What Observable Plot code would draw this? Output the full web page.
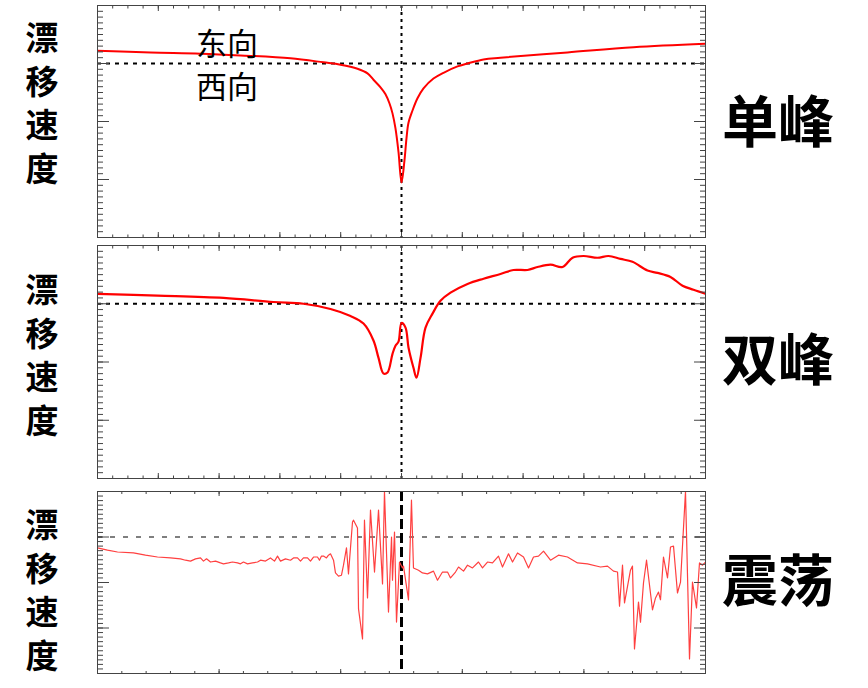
<!DOCTYPE html>
<html><head><meta charset="utf-8">
<script src="https://cdn.jsdelivr.net/npm/d3@7"></script>
<script src="https://cdn.jsdelivr.net/npm/@observablehq/plot@0.6"></script>
<style>
body{margin:0;background:#fff;}
#chart{position:relative;width:868px;height:688px;overflow:hidden;font-family:"Noto Sans CJK SC","Noto Sans",sans-serif;color:#000;}
.panel{position:absolute;left:0;}
.ylab{position:absolute;left:20px;width:44px;text-align:center;font-weight:bold;font-size:33px;line-height:43.5px;}
.rlab{position:absolute;left:722px;font-weight:bold;font-size:56px;line-height:60px;white-space:nowrap;}
.ann{position:absolute;left:196px;font-size:31px;line-height:43px;white-space:nowrap;}
</style></head>
<body><div id="chart"></div>
<script>
// ---- data ----
const panelNames = ["单峰", "双峰", "震荡"];
const yLabel = ["漂", "移", "速", "度"];
const annEast = "东向";
const annWest = "西向";

// panel 1: single peak
const x1 = [0,8.72,16.94,23.52,31.74,37.17,39.97,42.76,44.41,45.39,46.55,47.37,48.03,48.52,49.01,49.51,50,50.49,50.82,51.15,51.81,52.63,53.62,55.26,56.91,59.21,60.86,63.49,66.28,77.30,88.16,100];
const y1 = [0.22,0.19,0.17,0.14,0.09,0.02,-0.02,-0.09,-0.17,-0.28,-0.41,-0.53,-0.69,-0.86,-1.12,-1.53,-2.05,-1.67,-1.29,-1.02,-0.81,-0.60,-0.43,-0.26,-0.16,-0.05,0,0.07,0.10,0.19,0.28,0.34];

// panel 2: double peak
const x2 = [0,9.87,20.72,28.95,33.88,38.32,41.61,43.75,45.39,46.22,47.04,47.70,48.52,49.01,49.51,50.0,50.66,51.15,51.97,52.47,53.13,53.95,55.10,56.41,58.06,60.86,63.49,66.28,68.42,70.72,72.37,74.51,76.48,78.13,79.93,82.24,84.05,86.02,87.99,90.46,92.11,94.24,96.22,98.03,100];
const y2 = [0.17,0.14,0.10,0.03,0,-0.09,-0.21,-0.34,-0.63,-0.93,-1.20,-1.18,-0.86,-0.72,-0.65,-0.33,-0.41,-0.75,-1.10,-1.27,-0.93,-0.41,-0.17,0.05,0.19,0.34,0.43,0.51,0.58,0.58,0.63,0.67,0.63,0.79,0.82,0.79,0.82,0.77,0.72,0.57,0.53,0.46,0.31,0.24,0.17];

// panel 3: oscillation
const x3 = [0,1.64,3.29,5.92,7.89,9.87,12.01,13.65,14.47,15.30,16.12,16.94,17.43,17.93,18.59,19.41,20.23,20.72,21.55,22.20,23.03,23.52,24.01,24.67,25.49,26.32,26.81,27.63,28.45,29.11,29.61,30.10,30.92,31.74,32.24,32.89,33.39,33.88,34.54,35.03,35.53,36.18,36.51,36.84,37.17,37.66,37.99,38.32,38.82,39.14,39.64,40.13,40.46,40.95,41.28,41.94,42.11,42.76,42.93,43.59,43.91,44.41,44.90,45.56,46.22,46.88,47.20,47.86,48.36,48.52,48.85,49.18,49.67,50.16,50.33,51.15,51.64,51.97,52.80,53.45,54.28,55.26,55.92,56.74,57.57,58.06,58.88,59.38,60.20,60.86,61.68,62.66,63.32,64.14,64.97,65.95,66.61,67.60,68.26,69.08,70.07,70.89,71.71,72.53,73.36,74.51,75.82,77.30,78.95,80.59,82.73,83.88,84.87,85.53,85.86,86.35,86.68,87.66,87.99,88.32,88.98,89.31,89.80,90.30,91.28,91.78,92.27,92.60,93.09,93.75,94.24,94.74,95.39,95.89,96.71,97.37,97.86,98.52,99.01,99.51,100];
const y3 = [-0.24,-0.29,-0.33,-0.35,-0.40,-0.44,-0.46,-0.48,-0.51,-0.53,-0.48,-0.46,-0.53,-0.48,-0.55,-0.53,-0.57,-0.59,-0.57,-0.55,-0.57,-0.59,-0.55,-0.59,-0.57,-0.55,-0.51,-0.53,-0.46,-0.53,-0.42,-0.53,-0.48,-0.51,-0.46,-0.46,-0.53,-0.46,-0.46,-0.53,-0.44,-0.44,-0.51,-0.42,-0.42,-0.46,-0.40,-0.37,-0.51,-0.79,-0.86,-0.84,-0.62,-0.24,-0.81,0.33,0.37,0.20,-1.58,-2.24,0.37,-1.34,0.59,-0.77,0.59,-1.03,1.0,-1.65,0,-0.95,0.11,-1.87,-0.55,-0.68,-0.64,-1.38,0.81,-0.68,-0.73,-0.79,-0.81,-0.75,-0.95,-0.77,-0.77,-0.90,-0.77,-0.66,-0.75,-0.62,-0.68,-0.55,-0.68,-0.55,-0.57,-0.42,-0.66,-0.37,-0.55,-0.35,-0.44,-0.68,-0.44,-0.42,-0.31,-0.51,-0.40,-0.44,-0.57,-0.59,-0.66,-0.64,-0.75,-0.77,-1.52,-0.62,-1.45,-0.73,-0.64,-2.46,-1.43,-1.87,-1.01,-0.51,-1.60,-1.34,-1.21,-1.38,-0.44,-0.90,-0.22,-0.20,-1.23,-0.99,1.0,-2.68,-0.99,-1.56,-0.57,-0.62,-0.55];

// axes
const xDomain = [0, 100];
const yDomain = [-3, 1];
const refX = 50;   // vertical reference
const refY = 0;    // east / west boundary
const yMajor = [-3, -2, -1, 0, 1];
const yMinor = d3.range(-30, 11).map(d => d / 10);
const xMajorA = d3.range(0, 101, 10);
const xMinorA = d3.range(0, 401, 10).map(d => d / 4);
const xMajorB = d3.range(0, 101, 20);
const xMinorB = d3.range(0, 101, 4);

// ---- drawing ----
const chart = document.getElementById("chart");
const frameColor = "#444";

function axes(xMaj, xMin, yTickMaj, yTickMin, xTickMaj, xTickMin) {
  const common = {tickFormat: () => "", label: null, stroke: frameColor};
  return [
    Plot.axisY({...common, anchor: "left", ticks: yMinor, tickSize: -yTickMin}),
    Plot.axisY({...common, anchor: "left", ticks: yMajor, tickSize: -yTickMaj}),
    Plot.axisY({...common, anchor: "right", ticks: yMinor, tickSize: -yTickMin}),
    Plot.axisY({...common, anchor: "right", ticks: yMajor, tickSize: -yTickMaj}),
    Plot.axisX({...common, anchor: "bottom", ticks: xMin, tickSize: -xTickMin}),
    Plot.axisX({...common, anchor: "bottom", ticks: xMaj, tickSize: -xTickMaj}),
    Plot.axisX({...common, anchor: "top", ticks: xMin, tickSize: -xTickMin}),
    Plot.axisX({...common, anchor: "top", ticks: xMaj, tickSize: -xTickMaj})
  ];
}

function panel(cfg) {
  const data = cfg.x.map((d, i) => ({x: d, y: cfg.y[i]}));
  const p = Plot.plot({
    width: 868, height: cfg.height,
    marginLeft: 97, marginRight: 163, marginTop: 5, marginBottom: 5,
    x: {domain: xDomain, axis: null},
    y: {domain: yDomain, axis: null},
    style: {background: "transparent"},
    marks: [
      Plot.ruleY([refY], {stroke: cfg.hColor, strokeWidth: cfg.hWidth, strokeDasharray: cfg.hDash}),
      Plot.ruleX([refX], {stroke: "#000", strokeWidth: cfg.vWidth, strokeDasharray: cfg.vDash}),
      Plot.line(data, {x: "x", y: "y", stroke: cfg.stroke, strokeWidth: cfg.lineWidth, curve: cfg.curve, clip: true}),
      ...axes(cfg.xMaj, cfg.xMin, 12, 6, cfg.xt, cfg.xt / 2),
      Plot.frame({stroke: frameColor, strokeWidth: 1})
    ]
  });
  p.classList.add("panel");
  p.style.top = cfg.top + "px";
  chart.appendChild(p);
}

panel({top: 0, height: 242, x: x1, y: y1, stroke: "#ff0000", lineWidth: 2, curve: "catmull-rom",
  hColor: "#000", hWidth: 2, hDash: "4,5", vWidth: 2, vDash: "3,4",
  xMaj: xMajorA, xMin: xMinorA, xt: 5});
panel({top: 240, height: 243, x: x2, y: y2, stroke: "#ff0000", lineWidth: 2.2, curve: "catmull-rom",
  hColor: "#000", hWidth: 2, hDash: "4,5", vWidth: 2, vDash: "3,4",
  xMaj: xMajorA, xMin: xMinorA, xt: 5});
panel({top: 486, height: 192, x: x3, y: y3, stroke: "#ff4040", lineWidth: 1.2, curve: "linear",
  hColor: "#555", hWidth: 1.3, hDash: "5,8", vWidth: 3, vDash: "10,4",
  xMaj: xMajorB, xMin: xMinorB, xt: 4});

// labels
const yLabTops = [15, 267, 502];
const rLabTops = [88, 326, 547];
yLabTops.forEach(t => {
  const d = document.createElement("div");
  d.className = "ylab";
  d.style.top = t + "px";
  d.innerHTML = yLabel.join("<br>");
  chart.appendChild(d);
});
panelNames.forEach((n, i) => {
  const d = document.createElement("div");
  d.className = "rlab";
  d.style.top = rLabTops[i] + "px";
  d.textContent = n;
  chart.appendChild(d);
});
const ann = document.createElement("div");
ann.className = "ann";
ann.style.top = "20px";
ann.innerHTML = annEast + "<br>" + annWest;
chart.appendChild(ann);
</script>
</body></html>
